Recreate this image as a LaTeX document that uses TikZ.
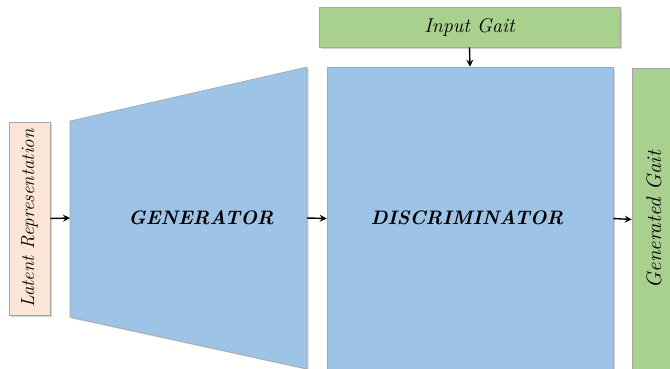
\documentclass[tikz,border=0pt]{standalone}
\usepackage{fontspec}
\usetikzlibrary{shadows,arrows.meta}
\definecolor{blockblue}{HTML}{9DC3E6}
\definecolor{gaitgreen}{HTML}{A9D18E}
\definecolor{latentpeach}{HTML}{FBE5D6}
\tikzset{
  block/.style={draw=gray!70,line width=0.6pt,inner sep=0pt,
    drop shadow={shadow xshift=1.5pt,shadow yshift=-1.5pt,opacity=0.35}},
  label/.style={font=\itshape\fontsize{20}{24}\selectfont},
  title/.style={font=\bfseries\itshape\fontsize{19.5}{22}\selectfont},
  flow/.style={-{Stealth[length=7pt,width=7pt,inset=2.5pt]},line width=1.4pt}
}
\begin{document}
\begin{tikzpicture}[x=1pt,y=-1pt]
    \useasboundingbox (0,0) rectangle (670,368);
    % boxes
    \node (latent)[block,fill=latentpeach,rotate=90,minimum width=193pt,minimum height=41pt,label,font=\itshape\fontsize{19}{22}\selectfont] at (29.5,218.5) {Latent Representation};
    \node (input)[block,fill=gaitgreen,minimum width=301pt,minimum height=40pt,label] at (469.5,27) {Input Gait};
    \node (disc)[block,fill=blockblue,minimum width=286pt,minimum height=303pt] at (470,218.5) {};
    \node (out)[block,fill=gaitgreen,rotate=90,minimum width=303pt,minimum height=44pt,label,font=\itshape\fontsize{21}{24}\selectfont] at (654,219.5) {Generated Gait};
    % generator
    \coordinate (gl) at (70,218);
    \coordinate (gr) at (307,218);
    \fill[gray,opacity=0.35] (71.5,122.5) -- (308.5,68.5) -- (308.5,370) -- (71.5,318.5) -- cycle;
    \filldraw[fill=blockblue,draw=gray!70,line width=0.6pt] (70,121) -- (307,67) -- (307,369) -- (70,317) -- cycle;
    \node (gen)[title] at (201,218) {GENERATOR};
    \node (disctext)[title] at (467,218) {\addfontfeature{LetterSpace=7}DISCRIMINATOR};
    % connectors
    \draw[flow] (latent.south) -- (gl);
    \draw[flow] (gr) -- (disc.west);
    \draw[flow] (input.south) -- (disc.north);
    \draw[flow] (disc.east) -- (out.north);
\end{tikzpicture}
\end{document}
